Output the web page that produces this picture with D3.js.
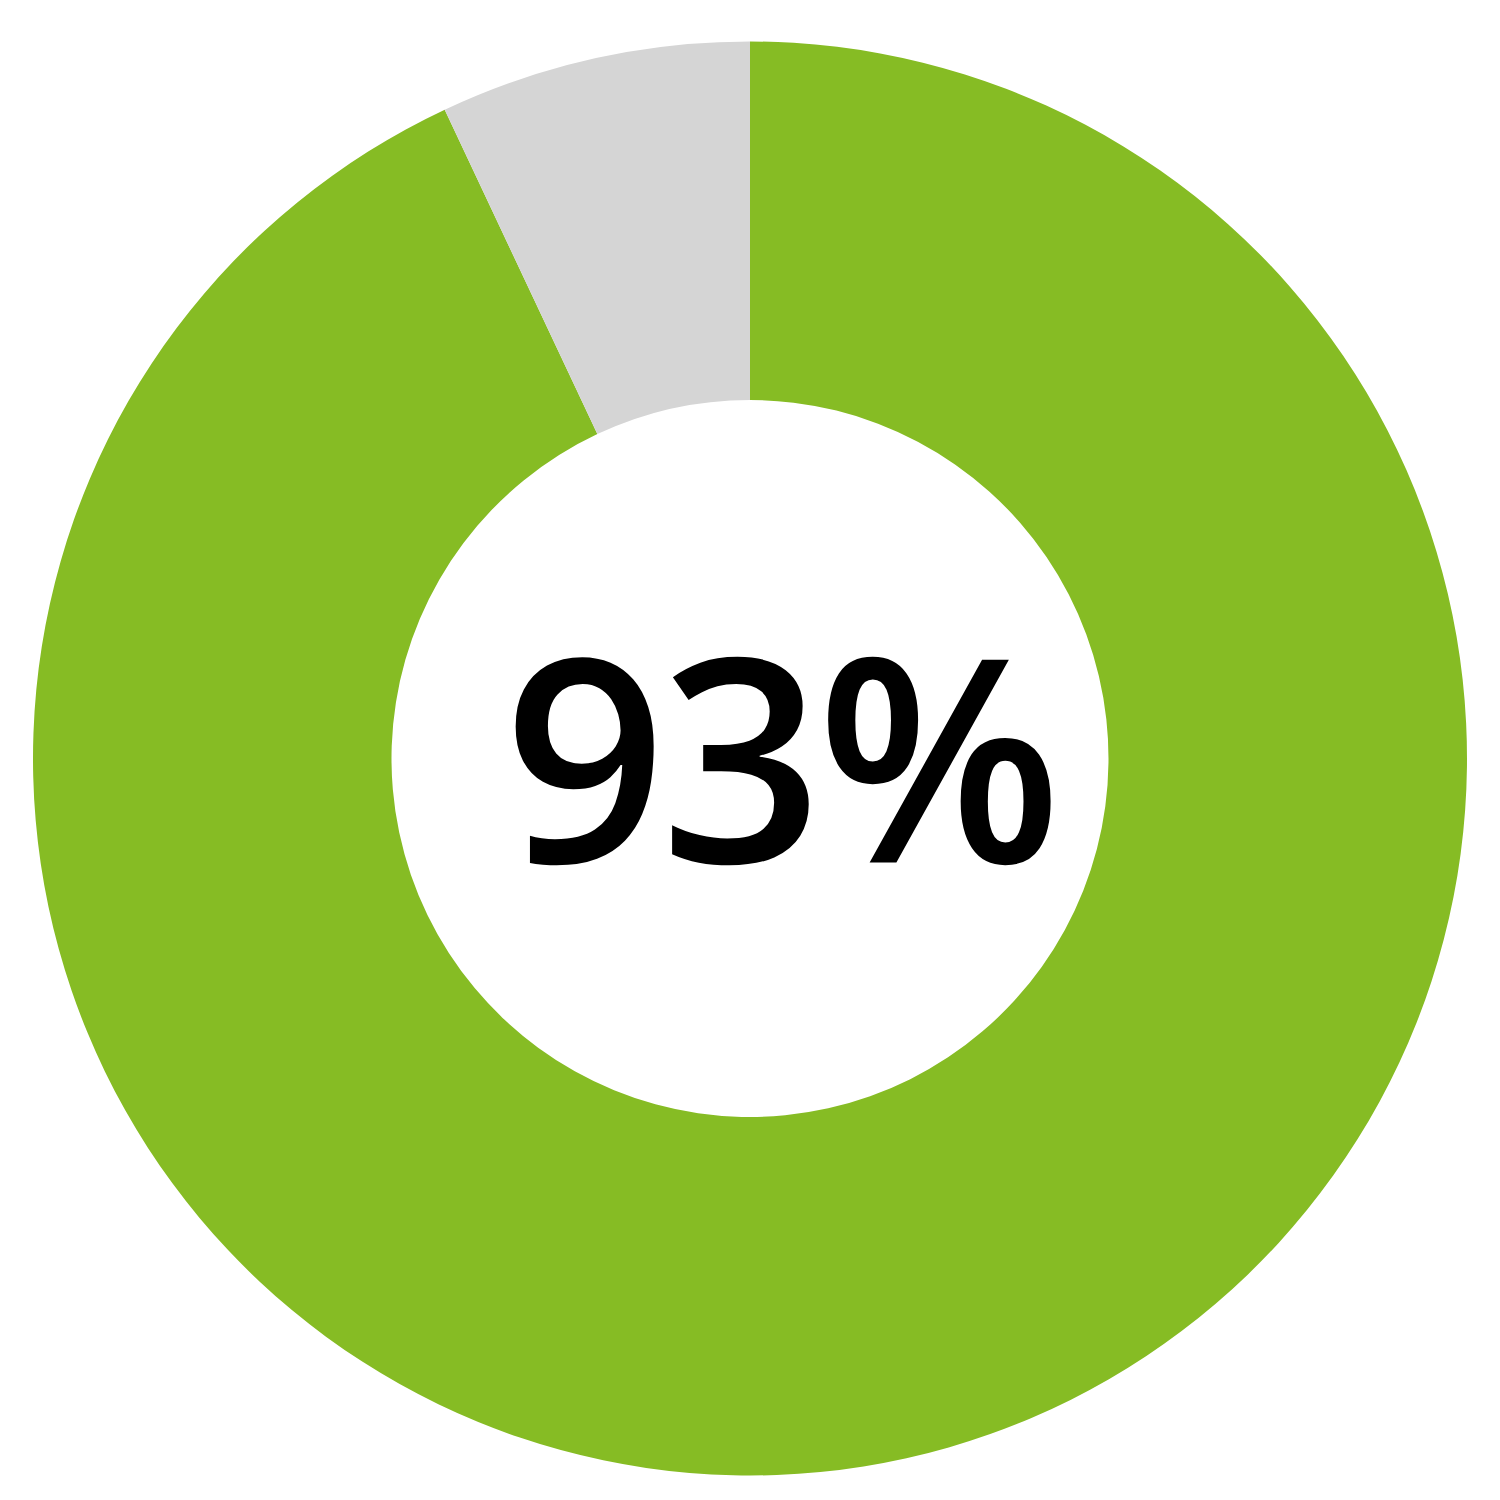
<!DOCTYPE html>
<html><head><meta charset="utf-8">
<script src="https://cdn.jsdelivr.net/npm/d3@7"></script>
<style>html,body{margin:0;padding:0;background:#fff;}svg{display:block;}</style>
</head><body>
<script>
const categories = ["Yes", "No"];
const values = [93, 7];
const colors = ["#86BC24", "#D5D5D5"];
const label = "93%";

const W = 1500, H = 1500;
const svg = d3.select("body").append("svg").attr("width", W).attr("height", H);
const g = svg.append("g").attr("transform", "translate(750,758.5)");
const pie = d3.pie().sort(null).value(d => d)(values);
const arc = d3.arc().innerRadius(358.5).outerRadius(717);
g.selectAll("path").data(pie).join("path")
  .attr("d", arc)
  .attr("fill", (d, i) => colors[i]);
g.append("text")
  .attr("x", 30).attr("y", 104)
  .attr("text-anchor", "middle")
  .attr("font-family", "'Open Sans', Lato, sans-serif")
  .attr("font-weight", 600)
  .attr("font-size", 284)
  .attr("letter-spacing", -6)
  .attr("fill", "#000")
  .text(label);
</script>
</body></html>
